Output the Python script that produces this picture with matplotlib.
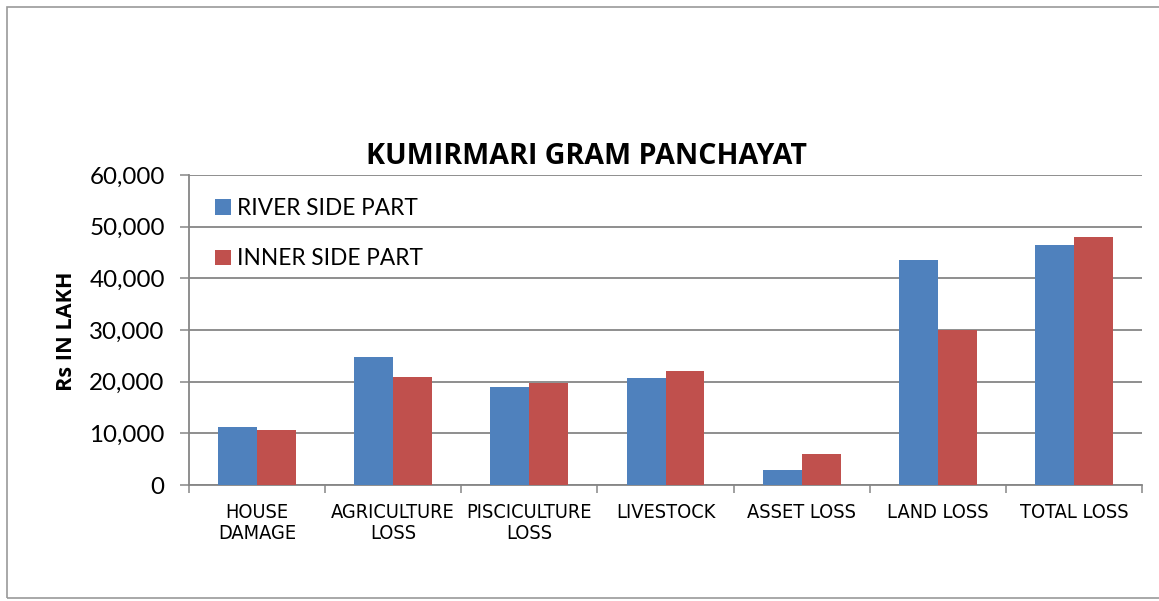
import matplotlib
matplotlib.use("Agg")
import matplotlib.pyplot as plt
import numpy as np
from matplotlib.patches import Rectangle
from matplotlib.ticker import FuncFormatter, FixedLocator
from matplotlib import font_manager as fm

categories = ["HOUSE\nDAMAGE", "AGRICULTURE\nLOSS", "PISCICULTURE\nLOSS", "LIVESTOCK",
              "ASSET LOSS", "LAND LOSS", "TOTAL LOSS"]
river_side = [11200, 24800, 18900, 20700, 2900, 43500, 46400]
inner_side = [10600, 20900, 19700, 22000, 6000, 30000, 48000]
series_names = ["RIVER SIDE PART", "INNER SIDE PART"]
title = "KUMIRMARI GRAM PANCHAYAT"
ylabel = "Rs IN LAKH"

# narrow font for category labels
cat_fp = fm.FontProperties(family="Lato", size=13)
try:
    p = fm.findfont(fm.FontProperties(family="DejaVu Sans", stretch="condensed"),
                    fallback_to_default=False)
    if "Condensed" in p:
        cat_fp = fm.FontProperties(fname=p, size=14.3)
except Exception:
    pass

W, H = 1159, 601
fig = plt.figure(figsize=(W / 100, H / 100), dpi=100)
fig.patch.set_facecolor("white")

# outer chart frame
fig.patches.append(Rectangle((7 / W, 3 / H), (W + 20) / W, (594 - 3) / H,
                             transform=fig.transFigure, fill=False,
                             edgecolor="#9a9a9a", linewidth=1.2))

ax = fig.add_axes([189 / W, (H - 485) / H, 953 / W, 310 / H])

grid_c = "#868686"
x = np.arange(len(categories))
bw = 1 / 3.5
ax.bar(x - bw / 2, river_side, width=bw, color="#4F81BD", label=series_names[0], zorder=3)
ax.bar(x + bw / 2, inner_side, width=bw, color="#C0504D", label=series_names[1], zorder=3)

ax.set_xlim(-0.5, len(categories) - 0.5)
ax.set_ylim(0, 60000)
ax.set_yticks(np.arange(0, 60001, 10000))
ax.yaxis.set_major_formatter(FuncFormatter(lambda v, p: f"{int(v):,}"))
ax.grid(axis="y", color=grid_c, linewidth=1.3, zorder=0)
ax.set_axisbelow(True)

for s in ["top", "right"]:
    ax.spines[s].set_visible(False)
ax.spines["left"].set_color(grid_c)
ax.spines["left"].set_linewidth(1.3)
ax.spines["bottom"].set_color(grid_c)
ax.spines["bottom"].set_linewidth(1.3)

ax.tick_params(axis="y", length=6.5, width=1.1, color=grid_c, pad=11,
               labelsize=17.4, labelcolor="black")
for t in ax.get_yticklabels():
    t.set_fontfamily("Lato")

ax.set_xticks(x)
ax.tick_params(axis="x", which="major", length=0, pad=13)
ax.xaxis.set_minor_locator(FixedLocator(np.arange(-0.5, len(categories), 1)))
ax.tick_params(axis="x", which="minor", length=5.5, width=1.1, color=grid_c)
ax.set_xticklabels(categories, linespacing=1.12, fontproperties=cat_fp)

fig.text(66 / W, 1 - 331 / H, ylabel, ha="center", va="center", rotation=90,
         fontsize=15.6, fontweight="bold", family="Open Sans")

fig.text(587 / W, 1 - 157 / H, title, ha="center", va="center",
         fontsize=20.6, fontweight="bold", family="Open Sans")

leg = ax.legend(loc="upper left", bbox_to_anchor=(0.018, 0.955), frameon=False,
                prop={"family": "Lato", "size": 16.3}, handlelength=0.7,
                handleheight=0.7, handletextpad=0.25, labelspacing=1.3,
                borderaxespad=0)

fig.savefig("out.png", dpi=100, facecolor="white")
